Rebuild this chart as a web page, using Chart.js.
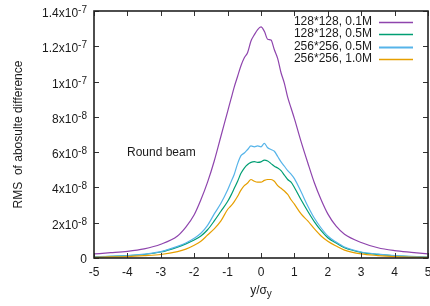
<!DOCTYPE html>
<html>
<head>
<meta charset="utf-8">
<script src="https://cdn.jsdelivr.net/npm/chart.js@4.4.0/dist/chart.umd.min.js"></script>
<style>
    html, body { margin: 0; padding: 0; background: #fff; overflow: hidden; }
</style>
</head>
<body>
<canvas id="chart" width="430" height="306"></canvas>
<script>
// y/sigma_y positions (shared by all series)
const xs = [-5, -4.5, -4, -3.5, -3, -2.5, -2.25, -2, -1.8, -1.6, -1.4, -1.2, -1, -0.9, -0.8, -0.7, -0.6,
    -0.5, -0.4, -0.3, -0.2, -0.1, 0, 0.1, 0.2, 0.3, 0.4, 0.5, 0.6, 0.7, 0.8, 0.9, 1, 1.2, 1.4, 1.6, 1.8,
    2, 2.25, 2.5, 3, 3.5, 4, 4.5, 5];

// RMS of absolute difference, in units of 1e-8
const rms128_01M = [0.23, 0.3, 0.38, 0.52, 0.78, 1.25, 1.75, 2.45, 3.3, 4.3, 5.5, 6.9, 8.3, 9.0, 9.7, 10.3, 10.9,
    11.35, 11.65, 12.3, 12.65, 12.95, 13.1, 12.85, 12.4, 12.35, 11.8, 11.3, 10.5, 9.9, 9.1, 8.5, 7.9, 6.6, 5.4, 4.25, 3.3,
    2.5, 1.8, 1.35, 0.88, 0.58, 0.42, 0.32, 0.23];
const rms128_05M = [0.06, 0.09, 0.13, 0.2, 0.34, 0.62, 0.8, 1.02, 1.25, 1.6, 2.1, 2.65, 3.2, 3.55, 3.95, 4.35, 4.8,
    5.1, 5.3, 5.42, 5.46, 5.42, 5.45, 5.55, 5.5, 5.35, 5.2, 5.1, 4.95, 4.7, 4.45, 4.3, 4.0, 3.3, 2.65, 2.05, 1.55,
    1.15, 0.85, 0.58, 0.32, 0.2, 0.12, 0.08, 0.04];
const rms256_05M = [0.07, 0.1, 0.14, 0.22, 0.36, 0.66, 0.85, 1.12, 1.4, 1.85, 2.5, 3.1, 3.85, 4.3, 4.75, 5.35, 5.8,
    5.95, 6.15, 6.35, 6.3, 6.35, 6.3, 6.5, 6.25, 6.15, 6.05, 5.75, 5.45, 5.2, 4.95, 4.75, 4.5, 3.75, 2.95, 2.25, 1.7,
    1.25, 0.9, 0.62, 0.34, 0.22, 0.14, 0.09, 0.05];
const rms256_10M = [0.04, 0.06, 0.08, 0.13, 0.2, 0.36, 0.5, 0.72, 0.95, 1.3, 1.65, 2.1, 2.75, 2.95, 3.2, 3.5, 3.85,
    4.1, 4.25, 4.45, 4.35, 4.3, 4.3, 4.4, 4.45, 4.45, 4.35, 4.1, 3.95, 3.8, 3.6, 3.3, 3.05, 2.5, 2.1, 1.65, 1.25,
    0.95, 0.68, 0.45, 0.23, 0.14, 0.08, 0.05, 0.03];

const seriesLabels = ['128*128, 0.1M', '128*128, 0.5M', '256*256, 0.5M', '256*256, 1.0M'];
const seriesColors = ['#8e44ad', '#009e73', '#56b4e9', '#e69f00'];

const xTicks = [-5, -4, -3, -2, -1, 0, 1, 2, 3, 4, 5];
const yTicks = [0, 2, 4, 6, 8, 10, 12, 14];

const FONT = '"Liberation Sans", Arial, sans-serif';
const INK = '#1a1a1a';

function toPoints(values) {
    return xs.map((x, i) => ({ x: x, y: values[i] }));
}

// gnuplot-like frame, mirrored ticks, labels, key and note
const gnuplotOverlay = {
    id: 'gnuplotOverlay',
    afterDatasetsDraw(chart) {
        const { ctx, chartArea: a, scales } = chart;
        const xScale = scales.x, yScale = scales.y;
        ctx.save();

        // ticks (inward, on all four sides)
        ctx.strokeStyle = '#333';
        ctx.lineWidth = 1;
        ctx.beginPath();
        xTicks.forEach(v => {
            const px = Math.round(xScale.getPixelForValue(v)) + 0.5;
            ctx.moveTo(px, a.bottom); ctx.lineTo(px, a.bottom - 5);
            ctx.moveTo(px, a.top); ctx.lineTo(px, a.top + 5);
        });
        yTicks.forEach(v => {
            const py = Math.round(yScale.getPixelForValue(v)) + 0.5;
            ctx.moveTo(a.left, py); ctx.lineTo(a.left + 5, py);
            ctx.moveTo(a.right, py); ctx.lineTo(a.right - 5, py);
        });
        ctx.stroke();

        // border
        ctx.lineWidth = 1.6;
        ctx.strokeStyle = '#222';
        ctx.strokeRect(a.left, a.top, a.right - a.left, a.bottom - a.top);

        ctx.fillStyle = INK;

        // x tick labels
        ctx.font = '12px ' + FONT;
        ctx.textAlign = 'center';
        ctx.textBaseline = 'alphabetic';
        xTicks.forEach(v => {
            ctx.fillText(String(v), xScale.getPixelForValue(v), a.bottom + 18);
        });

        // y tick labels with superscript exponent
        ctx.textAlign = 'right';
        const rightEdge = a.left - 7;
        yTicks.forEach(v => {
            const py = yScale.getPixelForValue(v);
            if (v === 0) {
                ctx.font = '12px ' + FONT;
                ctx.fillText('0', rightEdge, py + 5);
                return;
            }
            const mant = v >= 10 ? String(v / 10) : String(v);
            const exp = v >= 10 ? '-7' : '-8';
            ctx.font = '10px ' + FONT;
            const ew = ctx.measureText(exp).width;
            ctx.fillText(exp, rightEdge, py + 2);
            ctx.font = '12px ' + FONT;
            ctx.fillText(mant + 'x10', rightEdge - ew, py + 6);
        });

        // x axis title: y/sigma_y
        const cx = (a.left + a.right) / 2;
        ctx.font = '12px ' + FONT;
        const main = 'y/\u03c3';
        const mw = ctx.measureText(main).width;
        ctx.font = '10px ' + FONT;
        const sw = ctx.measureText('y').width;
        const startX = cx - (mw + sw) / 2;
        ctx.textAlign = 'left';
        ctx.font = '12px ' + FONT;
        ctx.fillText(main, startX, 294);
        ctx.font = '10px ' + FONT;
        ctx.fillText('y', startX + mw, 297);

        // y axis title
        ctx.save();
        ctx.translate(19, (a.top + a.bottom) / 2);
        ctx.rotate(-Math.PI / 2);
        ctx.font = '12px ' + FONT;
        ctx.textAlign = 'center';
        ctx.textBaseline = 'middle';
        ctx.fillText('RMS  of abosulte difference', 0, 0);
        ctx.restore();

        // note
        ctx.font = '12px ' + FONT;
        ctx.textAlign = 'left';
        ctx.textBaseline = 'middle';
        ctx.fillText('Round beam', 127, 153);

        // key: right-aligned labels with sample on the right
        const rows = [21.5, 34, 46.5, 59];
        chart.data.datasets.forEach((ds, i) => {
            ctx.fillStyle = INK;
            ctx.textAlign = 'right';
            ctx.fillText(ds.label, 372, rows[i]);
            ctx.strokeStyle = ds.borderColor;
            ctx.lineWidth = i === 2 ? 1.8 : 1.4;
            ctx.beginPath();
            ctx.moveTo(379, Math.round(rows[i]) + 0.5);
            ctx.lineTo(413, Math.round(rows[i]) + 0.5);
            ctx.stroke();
        });

        ctx.restore();
    }
};

const datasets = [rms128_01M, rms128_05M, rms256_05M, rms256_10M].map((vals, i) => ({
    label: seriesLabels[i],
    data: toPoints(vals),
    borderColor: seriesColors[i],
    borderWidth: 1.2,
    pointRadius: 0,
    fill: false,
    cubicInterpolationMode: 'monotone',
    order: 4 - i
}));

new Chart(document.getElementById('chart').getContext('2d'), {
    type: 'line',
    data: { datasets: datasets },
    options: {
        responsive: false,
        animation: false,
        events: [],
        layout: { padding: { top: 11, right: 2, left: 0, bottom: 0 } },
        plugins: {
            legend: { display: false },
            tooltip: { enabled: false }
        },
        scales: {
            x: {
                type: 'linear',
                min: -5,
                max: 5,
                grid: { display: false },
                border: { display: false },
                ticks: { display: false, stepSize: 1 },
                afterFit(scale) { scale.height = 48; }
            },
            y: {
                min: 0,
                max: 14,
                grid: { display: false },
                border: { display: false },
                ticks: { display: false, stepSize: 2 },
                afterFit(scale) { scale.width = 94; }
            }
        }
    },
    plugins: [gnuplotOverlay]
});
</script>
</body>
</html>
